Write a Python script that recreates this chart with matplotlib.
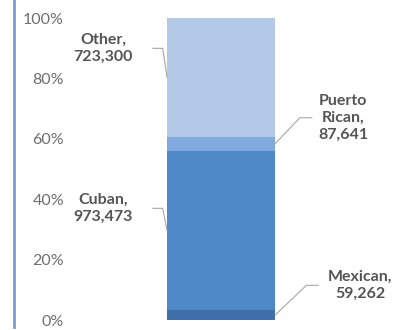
import numpy as np
import matplotlib.pyplot as plt

# Hispanic origin groups, stacked bottom to top
groups = ["Mexican", "Cuban", "Puerto\nRican", "Other"]
counts = [59262, 973473, 87641, 723300]
colors = ["#3e6fa9", "#4f88c6", "#80aadf", "#b2c9e8"]

# label placement: (text x, text y in %) and which side of the bar
label_pos = [(1.29, 11.5), (-1.09, 37.0), (1.13, 67.0), (-1.09, 90.0)]
knee_x = [0.90, -0.63, 0.84, -0.63]

pct = np.array(counts) / sum(counts) * 100
bottoms = np.concatenate([[0], np.cumsum(pct)[:-1]])

fig = plt.figure(figsize=(4.0, 3.3), dpi=100)
ax = fig.add_axes([14 / 400, 3 / 330, 386 / 400, 327 / 330])

for p, b, c in zip(pct, bottoms, colors):
    ax.bar(0, p, bottom=b, width=1.0, color=c, edgecolor="none")

for name, n, p, b, (tx, ty), kx in zip(groups, counts, pct, bottoms, label_pos, knee_x):
    mid = b + p / 2
    edge = 0.5 if tx > 0 else -0.5
    end = kx - 0.11 if tx > 0 else kx + 0.09
    ax.plot([edge, end, kx], [mid, ty, ty], color="#a6a6a6", lw=0.8)
    ax.text(tx, ty, f"{name},\n{n:,}", ha="center", va="center",
            fontsize=11.5, fontweight="bold", color="#555555",
            family="Lato", linespacing=1.25)

ax.set_xlim(-1.917, 1.657)
ax.set_ylim(-2.3, 106)
ax.set_yticks(range(0, 101, 20))
ax.set_yticklabels([f"{v}%" for v in range(0, 101, 20)])
ax.tick_params(axis="y", length=0, pad=-36, labelsize=11.5, labelcolor="#6e6e6e")
for t in ax.get_yticklabels():
    t.set_family("Lato")
ax.set_xticks([])
for s in ["top", "right", "bottom"]:
    ax.spines[s].set_visible(False)
ax.spines["left"].set_color("#7a9ad8")
ax.spines["left"].set_linewidth(2)

fig.savefig("out.png", dpi=100)
